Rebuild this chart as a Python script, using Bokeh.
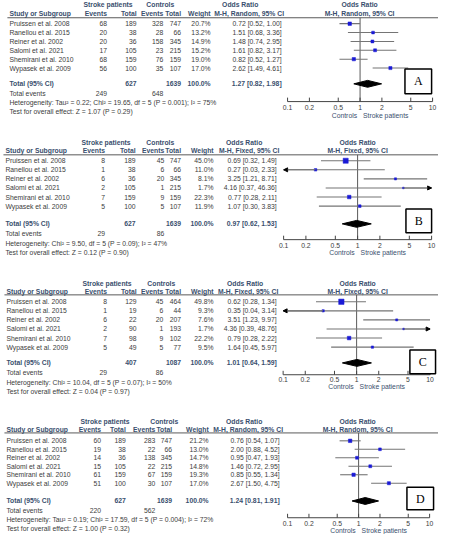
import numpy as np
from bokeh.plotting import figure
from bokeh.models import (ColumnDataSource, Range1d, LogScale, Arrow, NormalHead,
                          BoxAnnotation, Label)
from bokeh.core.properties import value
from bokeh.embed import file_html
from bokeh.resources import INLINE

# ---------------- data ----------------
studies = ["Pruissen et al. 2008", "Ranellou et al. 2015", "Reiner et al. 2002",
           "Salomi et al. 2021", "Shemirani et al. 2010", "Wypasek et al. 2009"]

tick_values = [0.1, 0.2, 0.5, 1, 2, 5, 10]
tick_labels = ["0.1", "0.2", "0.5", "1", "2", "5", "10"]
null_effect = 1

# Panel A
a_ev = [68, 20, 20, 17, 68, 56]
a_tot = [189, 38, 36, 105, 159, 100]
a_cev = [328, 28, 158, 23, 76, 35]
a_ctot = [747, 66, 345, 215, 159, 107]
a_w = [20.7, 13.2, 14.9, 15.2, 19.0, 17.0]
a_or = [0.72, 1.51, 1.48, 1.61, 0.82, 2.62]
a_lo = [0.52, 0.68, 0.74, 0.82, 0.52, 1.49]
a_hi = [1.00, 3.36, 2.95, 3.17, 1.27, 4.61]
a_total = dict(n1=627, n2=1639, w=100.0, o=1.27, l=0.82, h=1.98, e1=249, e2=648,
               method="M-H, Random, 95% CI",
               het="Heterogeneity: Tau² = 0.22; Chi² = 19.65, df = 5 (P = 0.001); I² = 75%",
               test="Test for overall effect: Z = 1.07 (P = 0.29)")

# Panel B
b_ev = [8, 1, 6, 2, 7, 5]
b_tot = [189, 38, 36, 105, 159, 100]
b_cev = [45, 6, 20, 1, 9, 5]
b_ctot = [747, 66, 345, 215, 159, 107]
b_w = [45.0, 11.0, 8.1, 1.7, 22.3, 11.9]
b_or = [0.69, 0.27, 3.25, 4.16, 0.77, 1.07]
b_lo = [0.32, 0.03, 1.21, 0.37, 0.28, 0.30]
b_hi = [1.49, 2.33, 8.71, 46.36, 2.11, 3.83]
b_total = dict(n1=627, n2=1639, w=100.0, o=0.97, l=0.62, h=1.53, e1=29, e2=86,
               method="M-H, Fixed, 95% CI",
               het="Heterogeneity: Chi² = 9.50, df = 5 (P = 0.09); I² = 47%",
               test="Test for overall effect: Z = 0.12 (P = 0.90)")

# Panel C
c_ev = [8, 1, 6, 2, 7, 5]
c_tot = [129, 19, 22, 90, 98, 49]
c_cev = [45, 6, 20, 1, 9, 5]
c_ctot = [464, 44, 207, 193, 102, 77]
c_w = [49.8, 9.3, 7.6, 1.7, 22.2, 9.5]
c_or = [0.62, 0.35, 3.51, 4.36, 0.79, 1.64]
c_lo = [0.28, 0.04, 1.23, 0.39, 0.28, 0.45]
c_hi = [1.34, 3.14, 9.97, 48.76, 2.22, 5.97]
c_total = dict(n1=407, n2=1087, w=100.0, o=1.01, l=0.64, h=1.59, e1=29, e2=86,
               method="M-H, Fixed, 95% CI",
               het="Heterogeneity: Chi² = 10.04, df = 5 (P = 0.07); I² = 50%",
               test="Test for overall effect: Z = 0.04 (P = 0.97)")

# Panel D
d_ev = [60, 19, 14, 15, 61, 51]
d_tot = [189, 38, 36, 105, 159, 100]
d_cev = [283, 22, 138, 22, 67, 30]
d_ctot = [747, 66, 345, 215, 159, 107]
d_w = [21.2, 13.0, 14.7, 14.8, 19.3, 17.0]
d_or = [0.76, 2.00, 0.95, 1.46, 0.85, 2.67]
d_lo = [0.54, 0.88, 0.47, 0.72, 0.55, 1.50]
d_hi = [1.07, 4.52, 1.93, 2.95, 1.34, 4.75]
d_total = dict(n1=627, n2=1639, w=100.0, o=1.24, l=0.81, h=1.91, e1=220, e2=562,
               method="M-H, Random, 95% CI",
               het="Heterogeneity: Tau² = 0.19; Chi² = 17.59, df = 5 (P = 0.004); I² = 72%",
               test="Test for overall effect: Z = 1.00 (P = 0.32)")

panel_letters = ["A", "B", "C", "D"]
panel_data = [
    (a_ev, a_tot, a_cev, a_ctot, a_w, a_or, a_lo, a_hi, a_total),
    (b_ev, b_tot, b_cev, b_ctot, b_w, b_or, b_lo, b_hi, b_total),
    (c_ev, c_tot, c_cev, c_ctot, c_w, c_or, c_lo, c_hi, c_total),
    (d_ev, d_tot, d_cev, d_ctot, d_w, d_or, d_lo, d_hi, d_total),
]

# ---------------- layout (reference pixel units) ----------------
layouts = [
    dict(h1=10, h2=19, line=23, row0=29, step=9.0, total=90, events=100, het=109, test=118,
         axis=108, ticklab=114, axlab=122, one=370.5, ppd=73.5, box=(416, 443, 75, 100),
         cols=(15, 114, 144, 171, 189, 219, 291), sp=115, ct=168, orh=(249, 258), frh=370),
    dict(h1=149, h2=158, line=162, row0=168, step=9.2, total=232, events=242, het=252, test=261,
         axis=248, ticklab=254, axlab=261, one=368, ppd=75, box=(417, 443, 217, 241),
         cols=(11, 112, 143, 172, 189, 222, 286), sp=113, ct=168, orh=(253, 258), frh=368),
    dict(h1=292, h2=301, line=304, row0=311, step=9.2, total=373, events=383, het=393, test=402,
         axis=385, ticklab=390, axlab=397, one=367, ppd=74.5, box=(421, 447, 360, 384),
         cols=(12, 114, 144, 171, 189, 222, 286), sp=114, ct=169, orh=(254, 257), frh=368),
    dict(h1=432, h2=441, line=444, row0=452, step=8.6, total=513, events=523, het=532, test=541,
         axis=530, ticklab=536, axlab=543, one=369, ppd=72, box=(418, 445, 499, 522),
         cols=(12, 108, 133, 163, 180, 217, 289), sp=112, ct=172, orh=(253, 257), frh=368),
]

W, H = 438, 534
X0, X1, Y0, Y1 = 6, 450, 5.5, 547
FS = "6.8px"
FONT = "Liberation Sans"
HEAD = "#3a4f6e"
BODY = "#3c3c3c"
BLUE = "#1a1ad6"
CI = "#757575"
AX = "#444444"

p = figure(width=W, height=H, x_range=Range1d(X0, X1), y_range=Range1d(Y1, Y0),
           output_backend="svg", toolbar_location=None, min_border=0,
           x_axis_location=None, y_axis_location=None)
p.grid.visible = False
p.outline_line_color = None
p.background_fill_color = "white"

ranges, scales = {}, {}
for i, g in enumerate(layouts):
    c, k = g["one"], g["ppd"]
    ranges[f"or{i}"] = Range1d(10 ** ((X0 - c) / k), 10 ** ((X1 - c) / k))
    scales[f"or{i}"] = LogScale()
p.extra_x_ranges = ranges
p.extra_x_scales = scales

texts = {}


def put(x, y, t, align, style):
    key = (align, style)
    d = texts.setdefault(key, dict(x=[], y=[], text=[]))
    d["x"].append(x)
    d["y"].append(y)
    d["text"].append(t)


for i, (g, dat) in enumerate(zip(layouts, panel_data)):
    ev, tot, cev, ctot, w, o, lo, hi, tt = dat
    rname = f"or{i}"
    cols = g["cols"]
    n = len(studies)
    ys = g["row0"] + g["step"] * np.arange(n)

    # headers
    put(g["sp"], g["h1"], "Stroke patients", "center", "head")
    put(g["ct"], g["h1"], "Controls", "center", "head")
    put(g["orh"][0], g["h1"], "Odds Ratio", "center", "head")
    put(g["orh"][1], g["h2"], tt["method"], "center", "head")
    put(g["frh"], g["h1"], "Odds Ratio", "center", "head")
    put(g["frh"], g["h2"], tt["method"], "center", "head")
    put(cols[0], g["h2"], "Study or Subgroup", "left", "head")
    for cx, lab in zip(cols[1:6], ["Events", "Total", "Events", "Total", "Weight"]):
        put(cx, g["h2"], lab, "right", "head")

    # rows
    for j in range(n):
        put(cols[0], ys[j], studies[j], "left", "body")
        put(cols[1], ys[j], str(ev[j]), "right", "body")
        put(cols[2], ys[j], str(tot[j]), "right", "body")
        put(cols[3], ys[j], str(cev[j]), "right", "body")
        put(cols[4], ys[j], str(ctot[j]), "right", "body")
        put(cols[5], ys[j], f"{w[j]:.1f}%", "right", "body")
        put(cols[6], ys[j], f"{o[j]:.2f} [{lo[j]:.2f}, {hi[j]:.2f}]", "right", "body")

    # totals
    put(cols[0], g["total"], "Total (95% CI)", "left", "bold")
    put(cols[2], g["total"], str(tt["n1"]), "right", "bold")
    put(cols[4], g["total"], str(tt["n2"]), "right", "bold")
    put(cols[5], g["total"], f"{tt['w']:.1f}%", "right", "bold")
    put(cols[6], g["total"], f"{tt['o']:.2f} [{tt['l']:.2f}, {tt['h']:.2f}]", "right", "bold")
    put(cols[0], g["events"], "Total events", "left", "body")
    put(cols[1], g["events"], str(tt["e1"]), "right", "body")
    put(cols[3], g["events"], str(tt["e2"]), "right", "body")
    put(cols[0], g["het"], tt["het"], "left", "body")
    put(cols[0], g["test"], tt["test"], "left", "body")

    # header rule
    p.segment(x0=[cols[0] - 2], x1=[X1], y0=[g["line"]], y1=[g["line"]],
              line_color="#5a5a5a", line_width=1)

    # forest plot
    tmin, tmax = tick_values[0], tick_values[-1]
    p.segment(x0=[null_effect], x1=[null_effect], y0=[g["line"]], y1=[g["axis"]],
              line_color="#5a5a5a", line_width=1, x_range_name=rname)
    lo_c = np.clip(lo, tmin, tmax)
    hi_c = np.clip(hi, tmin, tmax)
    p.segment(x0=lo_c, x1=hi_c, y0=ys, y1=ys, line_color=CI, line_width=1.1,
              x_range_name=rname)
    for j in range(n):
        if lo[j] < tmin:
            p.add_layout(Arrow(end=NormalHead(size=4, fill_color="black", line_color="black"),
                               x_start=o[j], y_start=ys[j], x_end=tmin, y_end=ys[j],
                               line_color=CI, line_width=1.1, x_range_name=rname))
        if hi[j] > tmax:
            p.add_layout(Arrow(end=NormalHead(size=4, fill_color="black", line_color="black"),
                               x_start=o[j], y_start=ys[j], x_end=tmax, y_end=ys[j],
                               line_color=CI, line_width=1.1, x_range_name=rname))
    sizes = np.maximum(0.76 * np.sqrt(np.array(w)), 1.6)
    p.scatter(x=o, y=ys, size=sizes, marker="square", fill_color=BLUE, line_color=BLUE,
              line_width=0.5, x_range_name=rname)
    yt = g["total"]
    p.patch(x=[tt["l"], tt["o"], tt["h"], tt["o"]], y=[yt, yt - 3.5, yt, yt + 3.5],
            fill_color="black", line_color="black", x_range_name=rname)

    # axis
    ya = g["axis"]
    p.segment(x0=[tmin], x1=[tmax], y0=[ya], y1=[ya], line_color=AX, line_width=1,
              x_range_name=rname)
    p.segment(x0=tick_values, x1=tick_values, y0=[ya] * len(tick_values),
              y1=[ya - 4] * len(tick_values), line_color=AX, line_width=1,
              x_range_name=rname)
    p.text(x=tick_values, y=[g["ticklab"]] * len(tick_values), text=tick_labels,
           text_align="center", text_baseline="middle", text_font=value(FONT),
           text_font_size=value(FS), text_color=BODY, x_range_name=rname)
    p.text(x=[null_effect], y=[g["axlab"]], text=["Controls"], text_align="right",
           text_baseline="middle", x_offset=-3, text_font=value(FONT),
           text_font_size=value(FS), text_color=HEAD, x_range_name=rname)
    p.text(x=[null_effect], y=[g["axlab"]], text=["Stroke patients"], text_align="left",
           text_baseline="middle", x_offset=3, text_font=value(FONT),
           text_font_size=value(FS), text_color=HEAD, x_range_name=rname)

    # panel letter box
    bx0, bx1, by0, by1 = g["box"]
    p.add_layout(BoxAnnotation(left=bx0, right=bx1, top=by0, bottom=by1,
                               fill_color="white", fill_alpha=1, line_color="black",
                               line_width=1.5, line_alpha=1))
    p.add_layout(Label(x=(bx0 + bx1) / 2, y=(by0 + by1) / 2, text=panel_letters[i],
                       text_align="center", text_baseline="middle",
                       text_font="Liberation Serif", text_font_size="12px",
                       text_color="black"))

for (align, style), d in texts.items():
    bold = style in ("head", "bold")
    p.text(x="x", y="y", text="text", source=ColumnDataSource(d), text_align=align,
           text_baseline="middle", text_font=value(FONT), text_font_size=value(FS),
           text_font_style="bold" if bold else "normal",
           text_color=HEAD if bold else BODY)

open("out.html", "w").write(file_html(p, INLINE))
